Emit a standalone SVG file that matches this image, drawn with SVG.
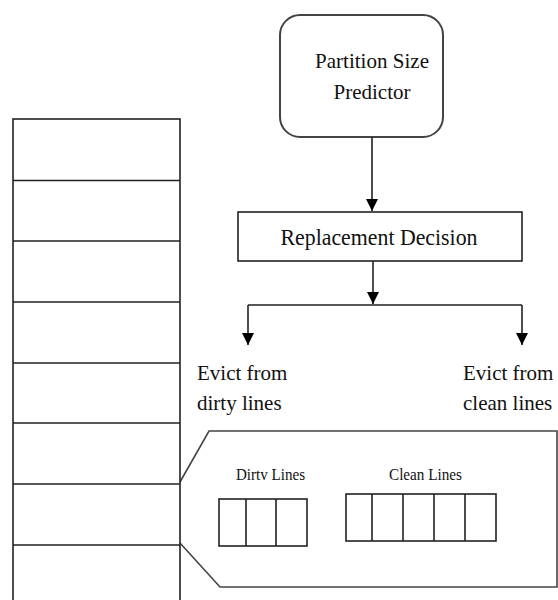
<svg xmlns="http://www.w3.org/2000/svg" width="558" height="600" viewBox="0 0 558 600">
<style>
.ln{fill:none;stroke:#222;stroke-width:1.6}
.bx{fill:#fff;stroke:#222;stroke-width:1.6}
</style>
<defs>
<marker id="ah2" markerWidth="12" markerHeight="13" refX="12" refY="6" orient="auto" markerUnits="userSpaceOnUse" viewBox="0 0 12 12">
<path d="M0,0 L12,6 L0,12 Z" fill="#000"/>
</marker>
</defs>
<rect width="558" height="600" fill="#fff"/>

<g font-family="Liberation Serif, Times New Roman, serif" fill="#111">
<g id="callout">
<path d="M180,482 L209,431 L557,431 L557,587 L220,587 L180,543" fill="none" stroke="#444" stroke-width="1.6"/>
<text x="236" y="480" font-size="17" textLength="69" lengthAdjust="spacingAndGlyphs">Dirtv Lines</text>
<text x="389" y="480" font-size="17" textLength="73" lengthAdjust="spacingAndGlyphs">Clean Lines</text>
</g>

<g id="cache-stack">
<rect class="bx" x="13" y="119" width="167" height="500"/>
<path class="ln" d="M13,180.5 H180 M13,241 H180 M13,302 H180 M13,363 H180 M13,423 H180 M13,484 H180 M13,545 H180"/>
</g>

<g id="partition-size-predictor">
<rect x="280" y="15" width="163" height="122" rx="20" ry="20" fill="#fff" stroke="#444" stroke-width="2"/>
<text x="372" y="68" font-size="21" text-anchor="middle" textLength="114" lengthAdjust="spacingAndGlyphs">Partition Size</text>
<text x="372" y="99" font-size="21" text-anchor="middle">Predictor</text>
</g>

<g id="replacement-decision">
<rect class="bx" x="238" y="212" width="284" height="49"/>
<text x="379" y="245" font-size="23" text-anchor="middle" textLength="197" lengthAdjust="spacingAndGlyphs">Replacement Decision</text>
</g>

<g id="evict-dirty">
<text x="197" y="380" font-size="21">Evict from</text>
<text x="197" y="410" font-size="21">dirty lines</text>
</g>

<g id="evict-clean">
<text x="463" y="380" font-size="21">Evict from</text>
<text x="463" y="410" font-size="21">clean lines</text>
</g>

<g id="dirty-lines">
<rect class="bx" x="219" y="499" width="88" height="47"/>
<path class="ln" d="M246,499 V546 M276,499 V546"/>
</g>

<g id="clean-lines">
<rect class="bx" x="346" y="494" width="150" height="47"/>
<path class="ln" d="M372,494 V541 M403,494 V541 M434,494 V541 M465,494 V541"/>
</g>
</g>

<g id="connectors">
<line class="ln" x1="372" y1="137" x2="372" y2="211" marker-end="url(#ah2)"/>
<line class="ln" x1="373" y1="261" x2="373" y2="304" marker-end="url(#ah2)"/>
<path class="ln" d="M248,305 H522"/>
<line class="ln" x1="248" y1="305" x2="248" y2="345" marker-end="url(#ah2)"/>
<line class="ln" x1="522" y1="305" x2="522" y2="345" marker-end="url(#ah2)"/>
</g>
</svg>
